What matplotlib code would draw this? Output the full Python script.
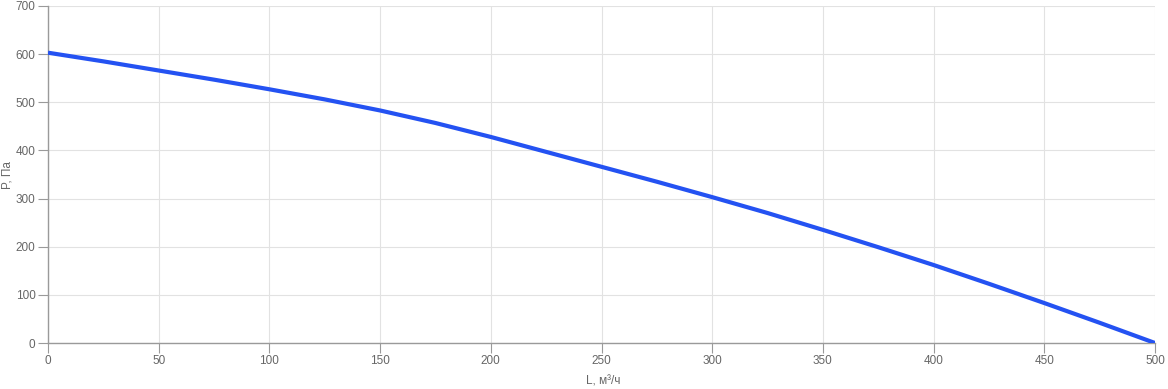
import matplotlib
matplotlib.use("Agg")
import matplotlib.pyplot as plt

flow = [0, 25, 50, 75, 100, 125, 150, 175, 200, 225, 250, 275, 300, 325, 350, 375, 400, 425, 450, 475, 500]
pressure = [603, 585, 566, 547, 527, 506, 483, 457, 428, 397, 366, 335, 303, 270, 235, 199, 162, 123, 83, 42, 0]
x_ticks = [0, 50, 100, 150, 200, 250, 300, 350, 400, 450, 500]
y_ticks = [0, 100, 200, 300, 400, 500, 600, 700]

plt.rcParams['font.family'] = ['Liberation Sans', 'DejaVu Sans']

W, H = 1168, 389
fig = plt.figure(figsize=(W / 100, H / 100), dpi=100)
ax = fig.add_axes([48 / W, (H - 343) / H, (1155 - 48) / W, (343 - 6) / H])

ax.plot(flow, pressure, color='#2452f2', lw=3, solid_capstyle='butt', solid_joinstyle='round', zorder=3)

ax.set_xlim(0, 500)
ax.set_ylim(0, 700)
ax.set_xticks(x_ticks)
ax.set_yticks(y_ticks)
ax.grid(True, color='#e2e2e2', lw=0.8)
ax.set_axisbelow(True)
for s in ['top', 'right']:
    ax.spines[s].set_visible(False)
for s in ['left', 'bottom']:
    ax.spines[s].set_color('#9a9a9a')
    ax.spines[s].set_linewidth(1)
ax.tick_params(axis='both', colors='#9a9a9a', labelcolor='#666666', labelsize=8.5, length=7, width=0.8, pad=2)
ax.set_xlabel('L, м³/ч', color='#666666', fontsize=8.5, va='center')
ax.set_ylabel('P, Па', color='#666666', fontsize=8.5, va='center')
ax.xaxis.set_label_coords(0.5012, -(381 - 343) / 337)
ax.yaxis.set_label_coords(-(48 - 8) / 1107, (343 - 175) / 337)

fig.savefig('out.png', dpi=100)
